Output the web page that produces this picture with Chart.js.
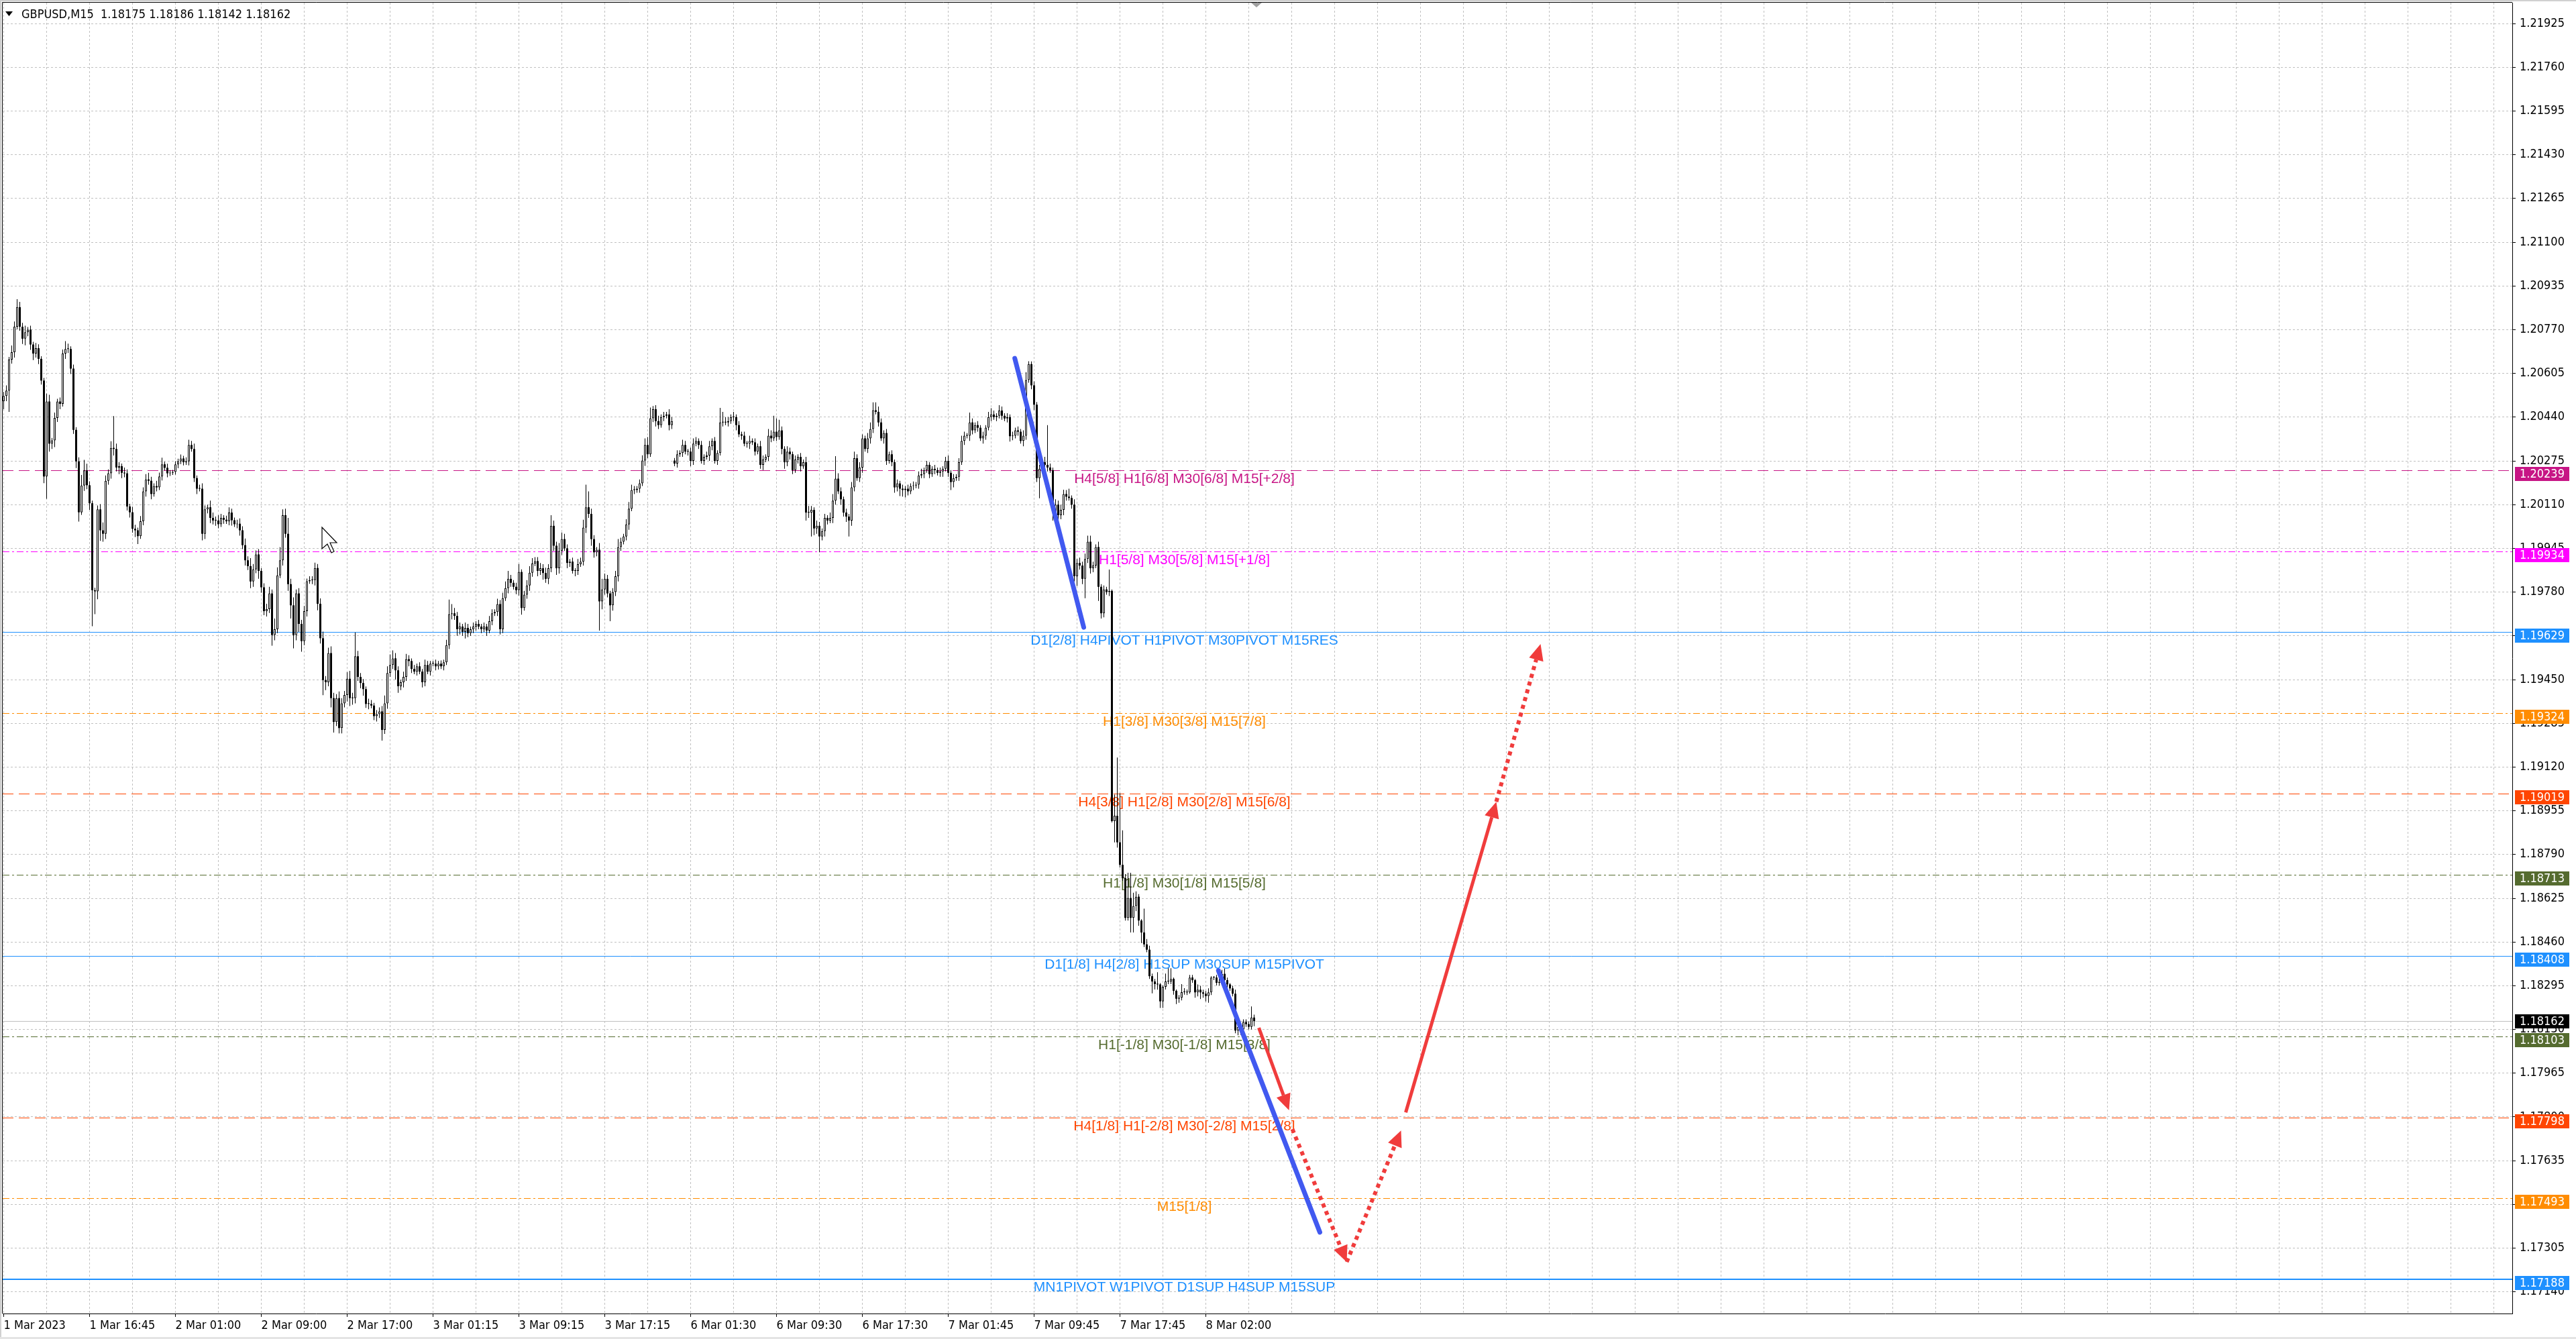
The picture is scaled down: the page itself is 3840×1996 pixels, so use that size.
<!DOCTYPE html>
<html>
<head>
<meta charset="utf-8">
<title>GBPUSD,M15</title>
<script src="https://cdn.jsdelivr.net/npm/chart.js@4.4.0/dist/chart.umd.min.js"></script>
<style>
  html, body { margin: 0; padding: 0; background: #fff; }
  #wrap { width: 3840px; height: 1996px; }
</style>
</head>
<body>
<div id="wrap"><canvas id="chart" width="3840" height="1996"></canvas></div>
<script>
// GBPUSD M15 - prices kept as points above 1.17000
const BASE = 1.17;
const toPrice = v => +(BASE + v / 100000).toFixed(5);

const timeLabels = ['1 Mar 2023', '1 Mar 16:45', '2 Mar 01:00', '2 Mar 09:00', '2 Mar 17:00',
    '3 Mar 01:15', '3 Mar 09:15', '3 Mar 17:15', '6 Mar 01:30', '6 Mar 09:30', '6 Mar 17:30',
    '7 Mar 01:45', '7 Mar 09:45', '7 Mar 17:45', '8 Mar 02:00'];

const priceTicks = [1.21925, 1.21760, 1.21595, 1.21430, 1.21265, 1.21100, 1.20935, 1.20770,
    1.20605, 1.20440, 1.20275, 1.20110, 1.19945, 1.19780, 1.19615, 1.19450, 1.19285, 1.19120,
    1.18955, 1.18790, 1.18625, 1.18460, 1.18295, 1.18130, 1.17965, 1.17800, 1.17635, 1.17470,
    1.17305, 1.17140];

// close of every bar
const closes = [
    3520,3540,3657,3685,3781,3855,3781,3736,3760,3770,
    3714,3680,3700,3660,3578,3216,3499,3340,3352,3437,
    3499,3490,3680,3697,3697,3623,3392,3273,3081,3182,
    3239,3183,3115,2787,2783,3092,3013,3000,3200,3228,
    3324,3320,3250,3255,3230,3228,3103,3081,3019,3013,
    2991,3047,3160,3205,3200,3150,3180,3175,3216,3262,
    3249,3228,3230,3233,3262,3273,3284,3270,3273,3335,
    3320,3210,3170,3170,3000,3092,3100,3060,3050,3050,
    3036,3060,3053,3047,3080,3051,3036,3038,3013,2957,
    2900,2878,2820,2866,2922,2860,2798,2708,2716,2775,
    2618,2640,2843,2900,3070,3000,2810,2730,2618,2775,
    2660,2595,2708,2821,2825,2825,2871,2736,2606,2448,
    2440,2550,2380,2290,2380,2267,2360,2392,2453,2380,
    2380,2538,2460,2437,2414,2358,2358,2352,2312,2320,
    2330,2260,2360,2475,2505,2530,2485,2425,2440,2460,
    2527,2520,2490,2480,2500,2480,2440,2505,2480,2510,
    2510,2500,2510,2500,2515,2580,2697,2700,2690,2640,
    2650,2630,2645,2625,2640,2650,
    2660,2650,2640,2650,2635,2670,2700,2705,2735,2640,
    2757,2795,2830,2815,2800,2787,2856,2720,2770,2805,
    2853,2888,2897,2860,2870,2852,2830,2870,3030,2955,
    2870,2935,2980,2945,2890,2895,2860,2860,2885,2895,
    3023,3100,3075,2980,2930,2940,2745,2790,2830,2775,
    2730,2780,2840,2950,2970,2990,3035,3095,3165,3165,
    3170,3190,3276,3335,3300,3436,3470,3425,3410,3440,
    3445,3450,3410,3425,3265,3300,3305,3335,3310,3310,
    3275,3340,3350,3335,3275,3290,3295,3330,3350,3275,
    3305,3420,3420,3420,3425,3440,3440,3410,3375,3370,
    3340,3340,3350,3345,3310,3330,3260,3280,3290,3370,
    3360,3385,3365,3390,3320,3270,3310,3300,3240,3280,
    3290,3255,3270,3080,3080,3090,3020,3030,2990,3010,
    3060,3050,3060,3125,3208,3160,3130,3080,3065,3050,
    3175,3285,3210,3250,3360,3320,3360,3395,3466,3460,
    3420,3360,3380,3275,3300,3270,3175,3190,3170,3165,
    3170,3160,3180,3182,3185,3220,3225,3240,3260,3225,
    3245,3240,3230,3235,3245,3275,3230,3195,3210,3215,
    3270,3350,3370,3370,3420,3390,3410,3400,3360,3370,
    3400,3440,3450,3440,3445,3465,3445,3435,3440,3368,
    3370,3390,3385,3350,3370,3580,3640,3560,3487,3210,
    3245,3270,3260,3250,3240,3080,3110,3070,3090,3150,
    3140,3135,3110,2840,2890,2880,2830,2905,2970,2870,
    2880,2950,2800,2700,2790,2780,2785,
    1916,1936,1836,1751,1701,1551,1626,1551,1596,1631,
    1541,1496,1451,1431,1331,1311,1301,1300,1236,1291,
    1311,1311,1321,1276,1246,1250,1271,1271,1270,1326,
    1316,1270,1280,1270,1265,1256,1270,1326,1326,1306,
    1310,1340,1316,1300,1285,1265,1126,1140,1130,1158,
    1150,1140,1175,1162
];

// upper shadow above the body, in points
const wickUp = [
    15,20,10,25,20,30,20,15,25,10, 15,10,20,15,10,10,30,25,10,20,
    10,15,15,30,20,10,15,10,15,40, 40,25,15,10,10,15,20,30,20,15,
    25,120,20,15,10,20,15,10,20,15, 10,20,15,20,25,15,10,20,15,25,
    10,15,10,8,12,10,15,10,15,20, 15,20,10,15,20,15,10,25,20,15,
    20,15,10,15,20,15,10,15,20,15, 25,15,30,20,15,20,10,15,20,25,
    15,40,30,50,22,25,60,20,30,15, 20,15,20,10,15,15,20,15,20,25,
    15,20,25,20,15,25,20,15,25,30, 20,90,20,15,15,10,20,15,10,15,
    15,20,30,25,40,30,20,15,10,20, 20,15,10,15,10,15,10,20,15,10,
    10,15,10,12,10,20,55,35,20,15, 15,10,20,15,10,15,
    10,15,10,15,10,20,15,10,20,15, 20,25,30,15,10,15,30,10,15,20,
    25,20,15,15,20,15,20,15,40,20, 15,30,25,20,15,10,15,10,20,15,
    30,85,60,20,15,10,25,40,20,15, 10,15,20,30,15,10,20,25,20,15,
    10,15,20,25,30,40,12,15,20,10, 15,10,20,15,10,15,10,20,15,10,
    15,20,15,10,15,10,15,20,10,15, 10,55,40,20,15,10,20,10,15,10,
    15,10,20,10,15,10,20,15,10,25, 20,60,50,40,15,10,20,15,10,15,
    10,15,10,20,25,15,10,20,15,10, 15,10,20,25,85,20,15,10,15,10,
    20,25,15,20,15,10,20,25,30,30, 20,15,10,15,10,15,10,15,10,15,
    10,15,10,15,10,15,20,10,15,10, 10,15,10,15,10,15,20,10,15,10,
    15,20,15,10,37,15,10,15,10,15, 10,20,24,15,10,20,15,10,15,10,
    15,10,15,10,20,30,11,10,15,10,
    15,20,20,150,15,10,20,15,20,16, 15,30,10,20,15,20,15,20,23,23,
    15,10,20,10,15,10,80,
    5,80,220,185,130,15,95,95,50,20, 10,5,90,20,15,10,10,45,5,5,
    30,50,40,5,5,10,30,15,10,10, 10,5,20,15,10,10,15,5,5,10,
    15,15,20,10,5,10,15,10,10,10, 10,10,42,11
];

// lower shadow below the body, in points
const wickDn = [
    30,20,80,15,20,10,15,20,25,15, 20,25,15,20,15,25,84,30,20,25,
    15,20,10,20,15,20,15,25,35,10, 20,15,25,136,86,30,40,30,20,15,
    20,25,15,25,20,15,15,20,15,25, 30,10,15,20,15,20,10,15,10,15,
    10,15,10,8,10,15,10,12,10,15, 10,15,20,10,25,20,15,20,15,20,
    15,10,15,10,15,20,10,15,20,15, 20,15,25,20,15,30,20,15,20,15,
    40,20,15,10,20,15,25,50,50,20, 30,40,15,20,10,15,20,25,20,57,
    30,15,35,40,15,20,20,15,25,30, 25,20,15,20,25,15,20,10,15,20,
    15,40,15,20,15,15,35,25,15,20, 15,20,15,10,15,10,20,15,10,15,
    10,15,12,10,15,10,15,20,15,25, 20,15,25,15,10,15,
    15,10,15,10,20,10,15,10,15,20, 15,10,20,15,10,15,20,25,10,15,
    20,15,10,20,15,25,15,20,15,20, 25,20,15,10,20,15,10,20,15,10,
    15,20,15,25,20,15,110,30,20,15, 60,20,15,20,15,10,15,20,10,15,
    10,15,10,20,15,10,15,20,15,10, 15,10,20,15,10,15,10,15,10,15,
    20,15,10,15,10,15,10,20,15,10, 15,10,15,10,15,10,15,20,10,15,
    10,15,20,10,15,10,15,20,10,15, 15,10,15,10,20,25,15,20,15,10,
    15,20,10,30,20,90,25,20,60,15, 20,15,10,20,15,10,20,15,20,60,
    20,15,10,15,20,10,15,20,15,10, 15,10,20,15,10,15,20,15,28,25,
    28,15,10,15,10,15,10,15,10,15, 10,15,10,15,20,10,15,30,20,10,
    15,10,15,10,20,15,10,15,10,20, 15,10,15,10,15,10,15,10,15,20,
    15,10,15,10,20,15,10,15,20,15,
    76,15,10,15,10,30,15,73,15,20, 15,10,15,20,37,15,20,73,15,20,
    15,10,53,20,15,10,15,
    5,80,20,10,10,10,10,55,55,20, 20,40,10,10,10,45,20,20,25,25,
    10,10,10,15,20,15,10,10,10,5, 10,20,15,25,15,20,25,10,10,10,
    10,10,10,15,10,10,10,18,20,10, 10,10,10,20
];

// bars whose open is not the previous close: [bar, open]
const sessionOpens = [[0, 3500], [250, 3276]];

// Murrey / pivot levels drawn by the indicator
const levelPrices = [1.20239, 1.19934, 1.19629, 1.19324, 1.19019, 1.18713, 1.18408, 1.18103, 1.17798, 1.17493, 1.17188];
const levelNames = [
    'H4[5/8] H1[6/8] M30[6/8] M15[+2/8]',
    'H1[5/8] M30[5/8] M15[+1/8]',
    'D1[2/8] H4PIVOT H1PIVOT M30PIVOT M15RES',
    'H1[3/8] M30[3/8] M15[7/8]',
    'H4[3/8] H1[2/8] M30[2/8] M15[6/8]',
    'H1[1/8] M30[1/8] M15[5/8]',
    'D1[1/8] H4[2/8] H1SUP M30SUP M15PIVOT',
    'H1[-1/8] M30[-1/8] M15[3/8]',
    'H4[1/8] H1[-2/8] M30[-2/8] M15[2/8]',
    'M15[1/8]',
    'MN1PIVOT W1PIVOT D1SUP H4SUP M15SUP'
];
const bidPrice = 1.18162;
const headerText = 'GBPUSD,M15  1.18175 1.18186 1.18142 1.18162';

// hand-drawn trend lines and projection arrows: [bar, price]
const trendLines = [
    [[376.8, 1.20662], [402.5, 1.19647]],
    [[452.7, 1.18352], [490.5, 1.17365]]
];
const arrowPoints = [
    [[467.75, 1.18136], [479, 1.17825]],
    [[480.25, 1.17754], [500.5, 1.17253]],
    [[500.5, 1.17253], [520.75, 1.17749]],
    [[522.5, 1.17817], [556.25, 1.18989]],
    [[556.25, 1.18989], [572.75, 1.19584]]
];

// ---- styles ----
const AXIS_FAMILY = "'DejaVu Sans Condensed', 'DejaVu Sans', sans-serif";
const AXIS_FONT = "18px " + AXIS_FAMILY;
const LABEL_FONT = "21px 'Liberation Sans', Arial, sans-serif";
const GRID = '#c0c0c0';
const BLUE = '#4159f0';
const RED = '#f03c3c';
const levelStyles = [
    { color: '#c71585', dash: [16, 8], width: 1 },
    { color: '#ff00ff', dash: [10, 4, 3, 4], width: 1 },
    { color: '#1e90ff', dash: [], width: 1 },
    { color: '#ff8c00', dash: [10, 4, 3, 4], width: 1 },
    { color: '#ff4500', dash: [16, 8], width: 1 },
    { color: '#556b2f', dash: [10, 4, 3, 4], width: 1 },
    { color: '#1e90ff', dash: [], width: 1 },
    { color: '#556b2f', dash: [10, 4, 3, 4], width: 1 },
    { color: '#ff4500', dash: [16, 8], width: 1 },
    { color: '#ff8c00', dash: [10, 4, 3, 4], width: 1 },
    { color: '#1e90ff', dash: [], width: 2 }
];
const arrowDotted = [false, true, true, false, true];
const labelBar = 440;
const BARS_PER_LABEL = 32;

// ---- build candles ----
const opens = closes.map((c, i) => i > 0 ? closes[i - 1] : c);
sessionOpens.forEach(([i, o]) => { opens[i] = o; });

const wicks = [], bulls = [], bears = [];
closes.forEach((c, i) => {
    const o = opens[i];
    const hi = Math.max(o, c) + (wickUp[i] || 0);
    const lo = Math.min(o, c) - (wickDn[i] || 0);
    wicks.push({ x: i, y: [toPrice(lo), toPrice(hi)] });
    (c > o ? bulls : bears).push({ x: i, y: [toPrice(o), toPrice(c)] });
});

const gridBars = [];
for (let b = 0; b <= 928; b += BARS_PER_LABEL / 2) gridBars.push(b);
const isLabelled = v => v % BARS_PER_LABEL === 0 && timeLabels[v / BARS_PER_LABEL] !== undefined;

function drawArrow(ctx, x0, y0, x1, y1, dotted) {
    const ang = Math.atan2(y1 - y0, x1 - x0);
    const head = 24, half = 11;
    const bx = x1 - head * Math.cos(ang), by = y1 - head * Math.sin(ang);
    ctx.strokeStyle = RED;
    ctx.lineWidth = dotted ? 6 : 5;
    ctx.setLineDash(dotted ? [6, 6] : []);
    ctx.beginPath();
    ctx.moveTo(x0, y0);
    ctx.lineTo(bx, by);
    ctx.stroke();
    ctx.setLineDash([]);
    ctx.fillStyle = RED;
    ctx.beginPath();
    ctx.moveTo(x1, y1);
    ctx.lineTo(bx + half * Math.sin(ang), by - half * Math.cos(ang));
    ctx.lineTo(bx - half * Math.sin(ang), by + half * Math.cos(ang));
    ctx.closePath();
    ctx.fill();
}

const terminalPlugin = {
    id: 'terminal',
    beforeDatasetsDraw(chart) {
        const { ctx, chartArea: a, scales: { x, y } } = chart;
        ctx.save();
        ctx.beginPath();
        ctx.rect(a.left, a.top, a.right - a.left, a.bottom - a.top);
        ctx.clip();
        // bid line
        const bY = Math.round(y.getPixelForValue(bidPrice)) + 0.5;
        ctx.strokeStyle = '#c0c0c0';
        ctx.lineWidth = 1;
        ctx.beginPath(); ctx.moveTo(a.left, bY); ctx.lineTo(a.right, bY); ctx.stroke();
        // levels and their captions
        levelPrices.forEach((p, k) => {
            const st = levelStyles[k];
            const py = Math.round(y.getPixelForValue(p)) + (st.width % 2 ? 0.5 : 0);
            ctx.strokeStyle = st.color;
            ctx.lineWidth = st.width;
            ctx.setLineDash(st.dash);
            ctx.beginPath(); ctx.moveTo(a.left, py); ctx.lineTo(a.right, py); ctx.stroke();
            ctx.setLineDash([]);
            ctx.fillStyle = st.color;
            ctx.font = LABEL_FONT;
            ctx.textAlign = 'center';
            ctx.textBaseline = 'top';
            ctx.fillText(levelNames[k], x.getPixelForValue(labelBar), py + 2);
        });
        ctx.restore();
    },
    afterDatasetsDraw(chart) {
        const { ctx, chartArea: a, scales: { x, y } } = chart;
        ctx.save();
        ctx.beginPath();
        ctx.rect(a.left, a.top, a.right - a.left, a.bottom - a.top);
        ctx.clip();
        arrowPoints.forEach(([p0, p1], k) => {
            drawArrow(ctx, x.getPixelForValue(p0[0]), y.getPixelForValue(p0[1]),
                x.getPixelForValue(p1[0]), y.getPixelForValue(p1[1]), arrowDotted[k]);
        });
        ctx.restore();
    },
    afterDraw(chart) {
        const { ctx, chartArea: a, scales: { y } } = chart;
        ctx.save();
        // window edges
        ctx.fillStyle = '#d0d0d0';
        ctx.fillRect(0, 0, 3840, 2);
        ctx.fillRect(0, 0, 2, 1996);
        ctx.fillStyle = '#e4e4e4';
        ctx.fillRect(0, 1993, 3840, 3);
        // frame top / left
        ctx.strokeStyle = '#000';
        ctx.lineWidth = 1;
        ctx.beginPath();
        ctx.moveTo(3.5, a.bottom); ctx.lineTo(3.5, 3.5); ctx.lineTo(a.right, 3.5);
        ctx.stroke();
        // chart shift marker
        ctx.fillStyle = '#a0a0a0';
        ctx.beginPath(); ctx.moveTo(1865, 4); ctx.lineTo(1881, 4); ctx.lineTo(1873, 11); ctx.closePath(); ctx.fill();
        // price tags on the scale (level tags sit a little under their line)
        ctx.font = AXIS_FONT;
        ctx.textAlign = 'left';
        ctx.textBaseline = 'middle';
        const tag = (p, color, shift) => {
            const py = Math.round(y.getPixelForValue(p)) + shift;
            ctx.fillStyle = color;
            ctx.fillRect(y.left + 4, py - 10, 81, 21);
            ctx.fillStyle = '#fff';
            ctx.fillText(p.toFixed(5), y.left + 11, py + 1);
        };
        levelPrices.forEach((p, k) => tag(p, levelStyles[k].color, 5));
        tag(bidPrice, '#000', 0);
        // header
        ctx.fillStyle = '#000';
        ctx.beginPath(); ctx.moveTo(8, 17); ctx.lineTo(19, 17); ctx.lineTo(13.5, 24); ctx.closePath(); ctx.fill();
        ctx.font = AXIS_FONT;
        ctx.textBaseline = 'middle';
        ctx.fillText(headerText, 32, 22);
        // mouse pointer
        const cx = 480, cy = 786;
        const pts = [[0, 0], [0, 32], [8, 25], [14, 38], [18, 36], [12, 23], [22, 23]];
        ctx.beginPath();
        pts.forEach(([px, py], k) => k ? ctx.lineTo(cx + px, cy + py) : ctx.moveTo(cx + px, cy + py));
        ctx.closePath();
        ctx.fillStyle = '#fff';
        ctx.fill();
        ctx.strokeStyle = '#000';
        ctx.lineWidth = 1.2;
        ctx.stroke();
        ctx.restore();
    }
};

const ctx = document.getElementById('chart').getContext('2d');
const chart = new Chart(ctx, {
    type: 'bar',
    data: {
        datasets: [
            {
                type: 'line', label: 'trend 1', order: 0,
                data: trendLines[0].map(([x, y]) => ({ x, y })),
                borderColor: BLUE, borderWidth: 7, borderCapStyle: 'round', pointRadius: 0
            },
            {
                type: 'line', label: 'trend 2', order: 0,
                data: trendLines[1].map(([x, y]) => ({ x, y })),
                borderColor: BLUE, borderWidth: 7, borderCapStyle: 'round', pointRadius: 0
            },
            {
                label: 'bull', order: 1, data: bulls, grouped: false,
                backgroundColor: '#fff', borderColor: '#000', borderWidth: 1, borderSkipped: false,
                barThickness: 3, minBarLength: 1, inflateAmount: 0
            },
            {
                label: 'bear', order: 2, data: bears, grouped: false,
                backgroundColor: '#000', borderWidth: 0,
                barThickness: 3, minBarLength: 1, inflateAmount: 0
            },
            {
                label: 'shadow', order: 3, data: wicks, grouped: false,
                backgroundColor: '#000', borderWidth: 0,
                barThickness: 1, inflateAmount: 0
            }
        ]
    },
    options: {
        responsive: false,
        animation: false,
        devicePixelRatio: 1,
        events: [],
        layout: { padding: { left: 4, top: 4, right: 0, bottom: 0 } },
        plugins: { legend: { display: false }, tooltip: { enabled: false } },
        scales: {
            x: {
                type: 'linear', min: -0.375, max: 934.875, offset: false,
                afterBuildTicks: ax => { ax.ticks = gridBars.map(v => ({ value: v })); },
                afterFit: ax => { ax.height = 38; ax.paddingLeft = 0; ax.paddingRight = 0; },
                grid: {
                    color: GRID, lineWidth: 1, offset: false, tickLength: 5,
                    tickColor: c => (c.tick && isLabelled(c.tick.value)) ? '#000' : 'rgba(0,0,0,0)'
                },
                border: { display: true, color: '#000', width: 1, dash: [3, 3] },
                ticks: {
                    autoSkip: false, maxRotation: 0, minRotation: 0, align: 'start', padding: 3,
                    color: '#000', font: { family: AXIS_FAMILY, size: 18 },
                    callback: v => isLabelled(v) ? timeLabels[v / BARS_PER_LABEL] : ''
                }
            },
            y: {
                position: 'right', min: 1.170585, max: 1.220035,
                afterBuildTicks: ax => { ax.ticks = priceTicks.map(v => ({ value: v })); },
                afterFit: ax => { ax.width = 95; ax.paddingTop = 0; ax.paddingBottom = 0; },
                grid: { color: GRID, lineWidth: 1, tickLength: 5, tickColor: '#000' },
                border: { display: true, color: '#000', width: 1, dash: [3, 3] },
                ticks: {
                    padding: 6, color: '#000', font: { family: AXIS_FAMILY, size: 18 },
                    callback: v => v.toFixed(5)
                }
            }
        }
    },
    plugins: [terminalPlugin]
});
</script>
</body>
</html>
